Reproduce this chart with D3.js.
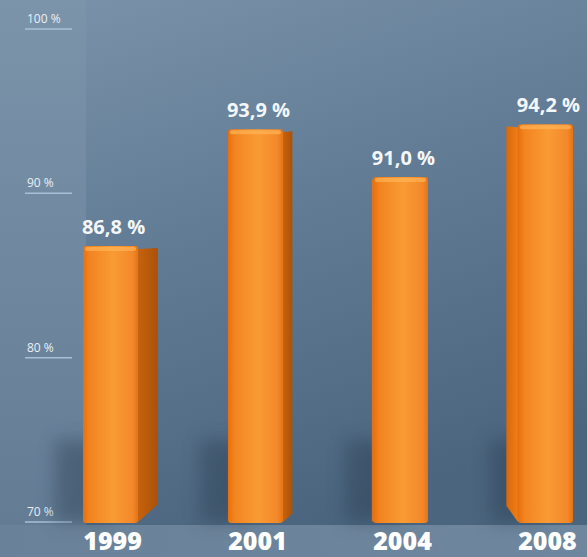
<!DOCTYPE html>
<html><head><meta charset="utf-8">
<script src="https://cdn.jsdelivr.net/npm/d3@7"></script>
<style>html,body{margin:0;padding:0;background:#5f7890;}svg{display:block;}</style>
</head><body>
<svg id="chart" width="587" height="557"></svg>
<script>
const years = ["1999","2001","2004","2008"];
const values = [86.8, 93.9, 91.0, 94.2];
const valueLabels = ["86,8 %","93,9 %","91,0 %","94,2 %"];
const tickValues = [70, 80, 90, 100];
const tickLabels = ["70 %","80 %","90 %","100 %"];

const W = 587, H = 557;
const svg = d3.select("#chart");
const defs = svg.append("defs");

const bg = defs.append("linearGradient").attr("id","bg").attr("x1","0").attr("y1","0").attr("x2","0.35").attr("y2","1");
bg.append("stop").attr("offset","0").attr("stop-color","#7b94ab");
bg.append("stop").attr("offset","0.45").attr("stop-color","#637d96");
bg.append("stop").attr("offset","1").attr("stop-color","#4b657e");
const bgL = defs.append("linearGradient").attr("id","bgL").attr("x1","0").attr("y1","0").attr("x2","0").attr("y2","1");
bgL.append("stop").attr("offset","0").attr("stop-color","#7c94aa");
bgL.append("stop").attr("offset","1").attr("stop-color","#627b93");
const fl = defs.append("linearGradient").attr("id","floor").attr("x1","0").attr("y1","0").attr("x2","1").attr("y2","0");
fl.append("stop").attr("offset","0").attr("stop-color","#6a8299");
fl.append("stop").attr("offset","1").attr("stop-color","#6f879e");

const front = defs.append("linearGradient").attr("id","front").attr("x1","0").attr("y1","0").attr("x2","1").attr("y2","0");
front.append("stop").attr("offset","0").attr("stop-color","#e66f0e");
front.append("stop").attr("offset","0.12").attr("stop-color","#f38420");
front.append("stop").attr("offset","0.55").attr("stop-color","#f99b34");
front.append("stop").attr("offset","0.9").attr("stop-color","#f3882a");
front.append("stop").attr("offset","1").attr("stop-color","#e47414");
const side = defs.append("linearGradient").attr("id","side").attr("x1","0").attr("y1","0").attr("x2","1").attr("y2","0");
side.append("stop").attr("offset","0").attr("stop-color","#c8620c");
side.append("stop").attr("offset","1").attr("stop-color","#a9520a");
const sideL = defs.append("linearGradient").attr("id","sideL").attr("x1","0").attr("y1","0").attr("x2","1").attr("y2","0");
sideL.append("stop").attr("offset","0").attr("stop-color","#d9680c");
sideL.append("stop").attr("offset","1").attr("stop-color","#ef7d18");
const blur = defs.append("filter").attr("id","blur").attr("x","-50%").attr("y","-50%").attr("width","200%").attr("height","200%");
blur.append("feGaussianBlur").attr("stdDeviation","9");

svg.append("rect").attr("width",W).attr("height",H).attr("fill","url(#bg)");
svg.append("rect").attr("width",86).attr("height",H).attr("fill","url(#bgL)");

const y = d3.scaleLinear().domain([70,100]).range([522,29]);
const x = d3.scaleBand().domain(years).range([83,573]).paddingInner(0.62).paddingOuter(0);

svg.append("rect").attr("x",0).attr("y",y(70)+3).attr("width",W).attr("height",H-y(70)-3).attr("fill","url(#floor)");

const tick = svg.append("g").selectAll("g").data(tickValues).join("g")
  .attr("transform", d => `translate(0,${y(d)})`);
tick.append("line").attr("x1",25).attr("x2",72).attr("y1",0).attr("y2",0)
  .attr("stroke","#a9c1d6").attr("stroke-width",1.5);
tick.append("text").attr("x",27).attr("y",-6).text((d,i)=>tickLabels[i])
  .attr("fill","#e9eff4").attr("font-family","'Open Sans', sans-serif").attr("font-size",12);

const vp = 385;
const sideW = c => (vp - c) * 0.072;

const data = years.map((yr,i)=>({yr, v: values[i], lab: valueLabels[i]}));
const bars = svg.append("g").selectAll("g").data(data).join("g");

bars.append("rect")
  .attr("x", d => x(d.yr) - 28).attr("y", y(75))
  .attr("width", x.bandwidth()).attr("height", y(70)-y(75))
  .attr("fill","#2c3f52").attr("opacity",0.45).attr("filter","url(#blur)");

bars.append("path").attr("d", d => {
  const x0 = x(d.yr), x1 = x0 + x.bandwidth(), c = x0 + x.bandwidth()/2;
  const s = sideW(c), top = y(d.v), bot = y(70);
  if (s >= 0) {
    return `M${x1},${top+3} L${x1+s},${top+2} L${x1+s},${bot-s*0.9} L${x1},${bot} Z`;
  } else {
    return `M${x0},${top+3} L${x0+s},${top+2} L${x0+s},${bot+s*1.4} L${x0},${bot} Z`;
  }
}).attr("fill", d => sideW(x(d.yr)+x.bandwidth()/2) >= 0 ? "url(#side)" : "url(#sideL)");

bars.append("rect")
  .attr("x", d => x(d.yr)).attr("y", d => y(d.v))
  .attr("width", x.bandwidth()).attr("height", d => y(70) - y(d.v) + 1)
  .attr("rx", 3).attr("fill","url(#front)");
bars.append("rect")
  .attr("x", d => x(d.yr)+2).attr("y", d => y(d.v)+1)
  .attr("width", x.bandwidth()-4).attr("height", 4).attr("rx",2)
  .attr("fill","#ffb457").attr("opacity",0.7);

bars.append("text")
  .attr("x", d => x(d.yr) + x.bandwidth()/2 + 3).attr("y", d => y(d.v) - 12)
  .attr("text-anchor","middle").text(d => d.lab)
  .attr("fill","#f4f7fa").attr("font-family","'Open Sans', sans-serif")
  .attr("font-weight",700).attr("font-size",20);

bars.append("text")
  .attr("x", d => x(d.yr) + x.bandwidth()/2 + 2).attr("y", 550)
  .attr("text-anchor","middle").text(d => d.yr)
  .attr("fill","#ffffff").attr("font-family","'Open Sans', sans-serif")
  .attr("font-weight",800).attr("font-size",25);
</script>
</body></html>
